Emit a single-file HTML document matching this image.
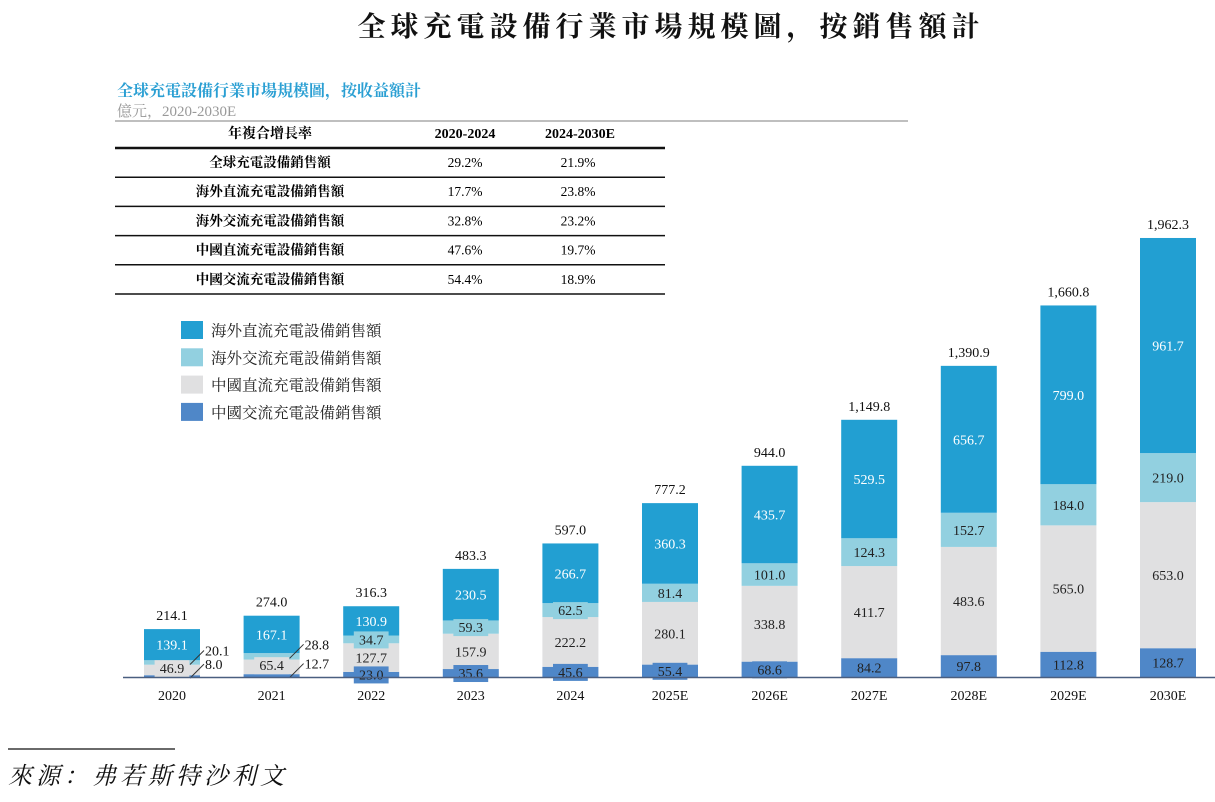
<!DOCTYPE html>
<html><head><meta charset="utf-8"><style>
body{margin:0;background:#fff;width:1215px;height:797px;overflow:hidden;font-family:"Liberation Serif","Noto Serif CJK SC",serif}
svg text{font-family:"Liberation Serif","Noto Serif CJK SC",serif}
</style></head><body>
<svg id="c" width="1215" height="797" xmlns="http://www.w3.org/2000/svg">
<text x="671" y="36" text-anchor="middle" font-size="28" font-weight="bold" letter-spacing="5" fill="#111">全球充電設備行業市場規模圖，按銷售額計</text>
<text x="117" y="96" font-size="16" font-weight="bold" fill="#2a9fd3" font-family="Liberation Sans, Noto Sans CJK SC, sans-serif">全球充電設備行業市場規模圖，按收益額計</text>
<text x="117" y="116" font-size="15" fill="#999">億元，2020-2030E</text>
<line x1="115" y1="121" x2="908" y2="121" stroke="#999" stroke-width="1.2"/>
<g id="tbl"></g>
<g id="leg"></g>
<g id="bars"></g>
<line x1="8" y1="749" x2="175" y2="749" stroke="#111" stroke-width="1.2"/>
<text x="8" y="784" font-size="24" font-style="italic" fill="#111" letter-spacing="4">來源：弗若斯特沙利文</text>
</svg>
<script>
const NS="http://www.w3.org/2000/svg";
const categories=["2020","2021","2022","2023","2024","2025E","2026E","2027E","2028E","2029E","2030E"];
const chinaAC=[8.0,12.7,23.0,35.6,45.6,55.4,68.6,84.2,97.8,112.8,128.7];
const chinaDC=[46.9,65.4,127.7,157.9,222.2,280.1,338.8,411.7,483.6,565.0,653.0];
const overseasAC=[20.1,28.8,34.7,59.3,62.5,81.4,101.0,124.3,152.7,184.0,219.0];
const overseasDC=[139.1,167.1,130.9,230.5,266.7,360.3,435.7,529.5,656.7,799.0,961.7];
const totals=["214.1","274.0","316.3","483.3","597.0","777.2","944.0","1,149.8","1,390.9","1,660.8","1,962.3"];
const seriesNames=["海外直流充電設備銷售額","海外交流充電設備銷售額","中國直流充電設備銷售額","中國交流充電設備銷售額"];
const colors=["#229fd2","#92d0e0","#e0e0e1","#4f87c8"];
const tableRows=["全球充電設備銷售額","海外直流充電設備銷售額","海外交流充電設備銷售額","中國直流充電設備銷售額","中國交流充電設備銷售額"];
const cagr1=["29.2%","17.7%","32.8%","47.6%","54.4%"];
const cagr2=["21.9%","23.8%","23.2%","19.7%","18.9%"];

function el(tag,attrs,parent,txt){const e=document.createElementNS(NS,tag);for(const k in attrs)e.setAttribute(k,attrs[k]);if(txt!==undefined)e.textContent=txt;parent.appendChild(e);return e;}
const base=677, maxV=1962.3, plotH=439;
const y=v=>base-v/maxV*plotH;
const xc=i=>172+i*99.6;
const bw=56;

const tbl=document.getElementById('tbl');
let t=el('text',{x:270,y:138,'text-anchor':'middle','font-size':14,'font-weight':'bold'},tbl,'年複合增長率');

t=el('text',{x:465,y:138,'text-anchor':'middle','font-size':14,'font-weight':'bold'},tbl,'2020-2024');

t=el('text',{x:580,y:138,'text-anchor':'middle','font-size':14,'font-weight':'bold'},tbl,'2024-2030E');

el('line',{x1:115,y1:148,x2:665,y2:148,stroke:'#111','stroke-width':2.5},tbl);
tableRows.forEach((r,i)=>{
  const ry=148+i*29.2;
  const a=el('text',{x:270,y:ry+19,'text-anchor':'middle','font-size':13.5,'font-weight':'bold'},tbl,r);
  
  const b=el('text',{x:465,y:ry+19,'text-anchor':'middle','font-size':13.5},tbl,cagr1[i]);
  
  const c=el('text',{x:578,y:ry+19,'text-anchor':'middle','font-size':13.5},tbl,cagr2[i]);
  
  el('line',{x1:115,y1:ry+29.2,x2:665,y2:ry+29.2,stroke:'#111','stroke-width':1.5},tbl);
});

const leg=document.getElementById('leg');
seriesNames.forEach((n,i)=>{
  const ly=321+i*27.3;
  const r=el('rect',{x:181,y:ly,width:22,height:18,fill:colors[i]},leg);
  
  const tx=el('text',{x:211,y:ly+15,'font-size':15.5,fill:'#222'},leg,n);
  
});

const g=document.getElementById('bars');
const order=[chinaAC,chinaDC,overseasAC,overseasDC];
const ocol=[colors[3],colors[2],colors[1],colors[0]];
const onames=['china-ac','china-dc','overseas-ac','overseas-dc'];
categories.forEach((cat,i)=>{
  let cum=0;const x0=xc(i)-bw/2;
  const segs=[];
  order.forEach((s,k)=>{
    const y1=y(cum+s[i]),y0=y(cum);
    const r=el('rect',{x:x0,y:y1,width:bw,height:y0-y1,fill:ocol[k]},g);
    
    
    segs.push({y0,y1,v:s[i],k});
    cum+=s[i];
  });
  const small=i<2;
  segs.forEach(sg=>{
    const mid=(sg.y0+sg.y1)/2;
    const val=sg.v.toFixed(1);
    if(small&&(sg.k===0||sg.k===2)){
      const lx=xc(i)+bw/2-10;
      const ln=el('line',{x1:lx,y1:mid+2,x2:lx+14,y2:mid-12,stroke:'#333','stroke-width':1},g);
      
      const tx=el('text',{x:lx+15,y:mid-7,'font-size':14,fill:'#111'},g,val);
      
      return;
    }
    let ty=mid+5;
    if(i===0&&sg.k===1)ty=sg.y0-2;
    if(i===1&&sg.k===1)ty=sg.y0-4;
    const tw=val.length*7.2+6;
    if(sg.y0-sg.y1<18){
      const bg=el('rect',{x:xc(i)-tw/2,y:ty-13,width:tw,height:17,fill:ocol[sg.k]},g);
      
    }
    const tx=el('text',{x:xc(i),y:ty,'text-anchor':'middle','font-size':14,fill:(sg.k===3)?'#fff':'#222'},g,val);
    
  });
  const tt=el('text',{x:xc(i),y:y(cum)-9,'text-anchor':'middle','font-size':14,fill:'#111'},g,totals[i]);
  
  const xl=el('text',{x:xc(i),y:700,'text-anchor':'middle','font-size':14,fill:'#111'},g,cat);
  
});
const ax=el('line',{x1:123,y1:base+0.5,x2:1215,y2:base+0.5,stroke:'#4a5f80','stroke-width':1.5},g);

</script>
</body></html>
